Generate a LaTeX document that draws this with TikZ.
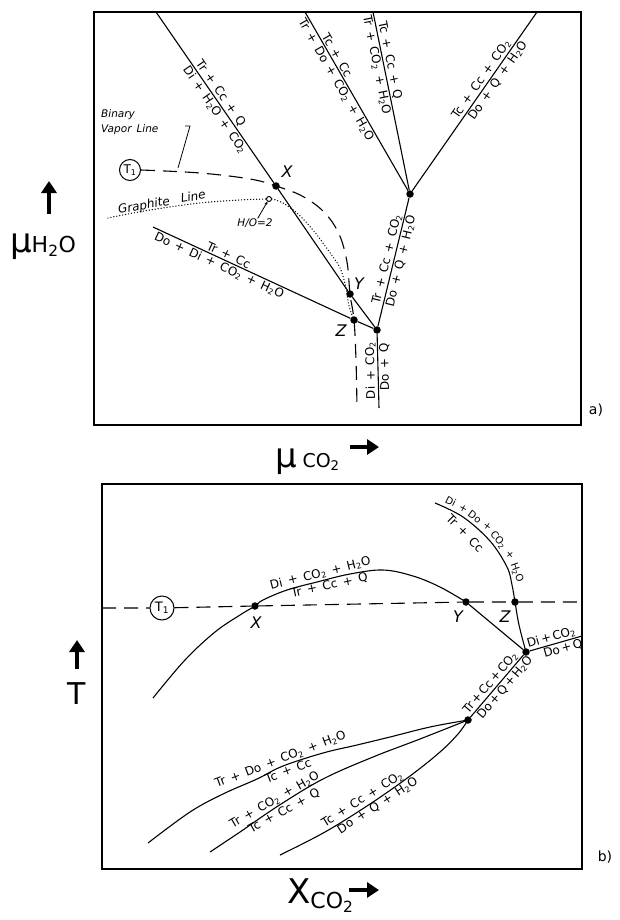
\documentclass[tikz,border=0pt]{standalone}
\usepackage{fontspec}
\setmainfont{DejaVu Sans}[WordSpace=1.5]
\newfontfamily\axisfont{DejaVu Sans}
\usetikzlibrary{arrows.meta}
\newcommand\sub[1]{\textsubscript{#1}}
\newcommand\lblsize{\fontsize{12}{13}\selectfont}
\newcommand\arcsize{\fontsize{10}{12}\selectfont}

\tikzset{
  frame/.style={line width=1.4pt},
  rel/.style={line width=1.1pt},
  lab/.style={font=\lblsize, inner sep=1.2pt},
  arclab/.style={font=\arcsize, inner sep=0pt, anchor=base},
  pnt/.style={circle, fill, inner sep=0pt, minimum size=7.5pt},
  ptname/.style={font=\fontsize{16}{18}\selectfont\itshape, inner sep=0pt},
  vapour/.style={line width=1.1pt, dash pattern=on 14pt off 8pt},
  graphite/.style={line width=1.4pt, line cap=round, dash pattern=on 0pt off 3pt},
  note/.style={font=\fontsize{10.5}{15}\selectfont\itshape, inner sep=0pt},
  leader/.style={line width=0.8pt},
  axisarrow/.style={line width=4.5pt, -{Triangle[length=12pt,width=15pt]}},
  tcirc/.style={circle, draw, line width=1pt, inner sep=0pt},
  axislab/.style={inner sep=0pt},
}

\begin{document}
\begin{tikzpicture}[x=1pt, y=-1pt]
\useasboundingbox (0,0) rectangle (619,920);
\fill[white] (0,0) rectangle (619,920);

% ================= panel a: chemical potential diagram =================
\draw[frame] (94,12) rectangle (581,425);

\coordinate (tA) at (156,12);
\coordinate (tB) at (305,12);
\coordinate (tC) at (373,12);
\coordinate (tD) at (537,12);
\coordinate (sA) at (153,227);
\coordinate (bW) at (379,408);
\coordinate (bZ) at (357,408);

\node[pnt] (X) at (276,186) {};
\node[pnt] (Y) at (350,294) {};
\node[pnt] (Z) at (354,320) {};
\node[pnt] (W) at (377,330) {};
\node[pnt] (U) at (410,194) {};
\node[circle, draw, line width=0.9pt, inner sep=0pt, minimum size=5pt] (o) at (269,199) {};

\node[ptname] (Xn) at (287,172) {X};
\node[ptname] (Yn) at (359,284) {Y};
\node[ptname] (Zn) at (341,331) {Z};

% univariant lines
\draw[rel] (tA) -- (X)
  node[lab, sloped, above, pos=0.5] (a1) {Tr + Cc + Q}
  node[lab, sloped, below, pos=0.55] (a2) {Di + H\sub2O + CO\sub2};
\draw[rel] (X) -- (Y) -- (W);
\draw[rel] (tB) -- (U)
  node[lab, sloped, above, pos=0.26] (b1) {Tc + Cc}
  node[lab, sloped, below, pos=0.36] (b2) {Tr + Do + CO\sub2 + H\sub2O};
\draw[rel] (tC) -- (U)
  node[lab, sloped, above, pos=0.28] (c1) {Tc + Cc + Q}
  node[lab, sloped, below, pos=0.29] (c2) {Tr + CO\sub2 + H\sub2O};
\draw[rel] (U) -- (tD)
  node[lab, sloped, above, pos=0.60] (d1) {Tc + Cc + CO\sub2}
  node[lab, sloped, below, pos=0.64] (d2) {Do + Q + H\sub2O};
\draw[rel] (W) -- (U)
  node[lab, sloped, above, pos=0.51] (e1) {Tr + Cc + CO\sub2}
  node[lab, sloped, below, pos=0.52] (e2) {Do + Q + H\sub2O};
\draw[rel] (bW) -- (W)
  node[lab, sloped, allow upside down, above, pos=0.51] (f1) {Di + CO\sub2}
  node[lab, sloped, allow upside down, below, pos=0.55] (f2) {Do + Q};
\draw[rel] (sA) -- (Z)
  node[lab, sloped, above, pos=0.37] (g1) {Tr + Cc}
  node[lab, sloped, below, pos=0.35] (g2) {Do + Di + CO\sub2 + H\sub2O};
\draw[rel] (Z) -- (W);

% binary vapour line
\node[tcirc, minimum size=21pt, font=\fontsize{12}{14}\selectfont] (T1a) at (130,170) {T\sub1};
\draw[vapour] plot[smooth, tension=0.6] coordinates
  {(T1a.east) (200,173) (250,179) (X.center) (302,196) (324,212) (339,234)
   (347,262) (Y.center) (Z.center) (356,360) (bZ)};
\node[note, anchor=base west] (bv1) at (101,118) {Binary};
\node[note, anchor=base west] (bv2) at (101,133) {Vapor Line};
\coordinate (bvh) at (185,126);
\coordinate (bvk) at (190,126);
\coordinate (bvt) at (178,168);
\draw[leader] (bvh) -- (bvk) -- (bvt);

% graphite saturation line
\draw[graphite] plot[smooth, tension=0.6] coordinates
  {(108,218) (150,210) (200,203) (240,200) (o.west)};
\draw[graphite] plot[smooth, tension=0.6] coordinates
  {(o.east) (283,203) (298,214) (313,230) (328,250) (340,268) (346,288) (349,306) (Z.center)};
\node[note, rotate=10, font=\fontsize{12}{14}\selectfont\itshape] (gl) at (162,203) {Graphite~~Line};
\node[note] (ho) at (255,223) {H/O=2};
\draw[leader, -{Stealth[length=3.5pt,width=3pt]}] (ho) -- (o);

\node[font=\fontsize{14}{16}\selectfont] (pa) at (596,410) {a)};

% axes of panel a
\node[axislab, anchor=base] (muH) at (43,252)
  {\axisfont\fontsize{34}{36}\selectfont μ\fontsize{22}{24}\selectfont H\sub{2}O};
\coordinate (arH0) at (49,214);
\coordinate (arH1) at (49,181);
\draw[axisarrow] (arH0) -- (arH1);
\node[axislab, anchor=base west] (muC) at (275,467)
  {\axisfont\fontsize{34}{36}\selectfont μ\,\fontsize{19}{21}\selectfont CO\sub{2}};
\coordinate (arC0) at (350,447);
\coordinate (arC1) at (379,447);
\draw[axisarrow] (arC0) -- (arC1);

% ================= panel b: T - X(CO2) section =================
\draw[frame] (102,484) rectangle (582,869);

\coordinate (hL) at (102,608);
\coordinate (hR) at (582,602);
\coordinate (rR) at (582,636);
\coordinate (cS) at (153,698);
\coordinate (arcS) at (435,503);
\coordinate (q1) at (148,843);
\coordinate (q2) at (210,852);
\coordinate (q3) at (280,855);

\node[tcirc, minimum size=24pt, font=\fontsize{13}{15}\selectfont] (T1b) at (162,608) {T\sub1};
\node[pnt] (X2) at (255,606) {};
\node[pnt] (Y2) at (466,602) {};
\node[pnt] (Z2) at (515,602) {};
\node[pnt] (V) at (526,652) {};
\node[pnt] (L) at (468,720) {};

\node[ptname] (X2n) at (256,623) {X};
\node[ptname] (Y2n) at (458,617) {Y};
\node[ptname] (Z2n) at (505,617) {Z};

% isotherm T1
\draw[vapour] (hL) -- (T1b) (T1b) -- (X2) -- (Y2) -- (Z2) -- (hR);

% curve through X
\draw[rel] plot[smooth, tension=0.6] coordinates
  {(cS) (185,660) (215,632) (240,615) (X2.center) (263,600) (287,590) (317,582)
   (350,574) (383,570) (413,576) (440,587) (Y2.center)};
\node[lab, rotate=14, anchor=south] (h1) at (322,580) {Di + CO\sub2 + H\sub2O};
\node[lab, rotate=12, anchor=north] (h2) at (328,579) {Tr + Cc + Q};

\draw[rel] (Y2) -- (V);

% curve through Z
\draw[rel] plot[smooth, tension=0.6] coordinates
  {(arcS) (463,517) (490,541) (507,567) (512,585) (Z2.center) (519,625) (V.center)};
\node[arclab, rotate=-27] (k1) at (455,507.5) {Di +};
\node[arclab, rotate=-36] (k2) at (478,523.7) {Do +};
\node[arclab, rotate=-52] (k3) at (500,547) {CO\sub2 +};
\node[arclab, rotate=-70] (k4) at (514,573.6) {H\sub2O};
\node[lab, rotate=-45] (k5) at (465,533) {Tr + Cc};

\draw[rel] (V) -- (rR)
  node[lab, sloped, above, pos=0.45] (m1) {Di\,+\,CO\sub2}
  node[lab, sloped, below, pos=0.6] (m2) {Do\,+\,Q};
\draw[rel] (L) -- (V)
  node[lab, sloped, above, pos=0.48] (n1) {Tr\,+\,Cc\,+\,CO\sub2}
  node[lab, sloped, below, pos=0.55] (n2) {Do\,+\,Q\,+\,H\sub2O};

% curves from the lower invariant point
\draw[rel] plot[smooth, tension=0.6] coordinates
  {(q1) (190,812) (223,794) (257,779) (283,766) (323,753) (357,745) (390,737) (430,727) (L.center)};
\node[lab, rotate=21, anchor=south] (p1) at (283,766) {Tr + Do + CO\sub2 + H\sub2O};
\node[lab, rotate=21, anchor=north] (p2) at (286,765) {Tc + Cc};
\draw[rel] plot[smooth, tension=0.6] coordinates
  {(q2) (240,832) (278,806) (323,779) (373,757) (420,739) (L.center)};
\node[lab, rotate=30, anchor=south] (p3) at (278,806) {Tr + CO\sub2 + H\sub2O};
\node[lab, rotate=29, anchor=north] (p4) at (281,805) {Tc + Cc + Q};
\draw[rel] plot[smooth, tension=0.6] coordinates
  {(q3) (325,832) (370,804) (410,776) (440,752) (458,734) (L.center)};
\node[lab, rotate=32, anchor=south] (p5) at (366,805) {Tc + Cc + CO\sub2};
\node[lab, rotate=33, anchor=north] (p6) at (374,800) {Do + Q + H\sub2O};

\node[font=\fontsize{14}{16}\selectfont] (pb) at (605,857) {b)};

% axes of panel b
\node[axislab] (Tax) at (77,694) {\axisfont\fontsize{30}{32}\selectfont T};
\coordinate (arT0) at (77,669);
\coordinate (arT1) at (77,640);
\draw[axisarrow] (arT0) -- (arT1);
\node[axislab, anchor=base west] (XC) at (287,903)
  {\axisfont\fontsize{34}{36}\selectfont X\raisebox{-5pt}{\fontsize{22}{24}\selectfont CO\sub{2}}};
\coordinate (arX0) at (349,890);
\coordinate (arX1) at (379,890);
\draw[axisarrow] (arX0) -- (arX1);
\end{tikzpicture}
\end{document}
